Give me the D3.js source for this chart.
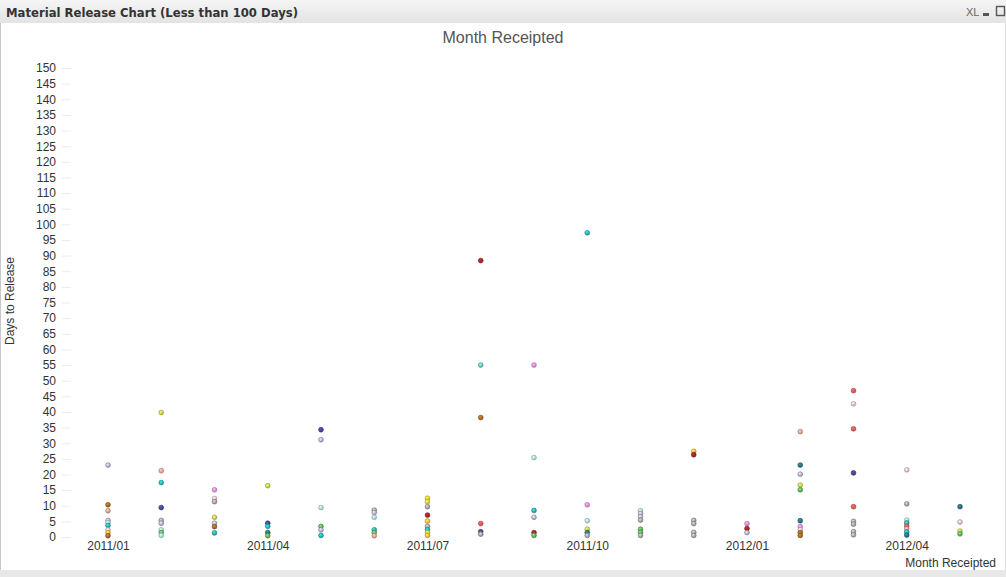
<!DOCTYPE html>
<html><head><meta charset="utf-8">
<script src="https://cdn.jsdelivr.net/npm/d3@7"></script>
<style>
html,body{margin:0;padding:0;background:#fff;}
svg{display:block;}
</style></head>
<body>
<svg id="c" width="1006" height="577"></svg>
<script>
// ---- data ----
const months = ["2011/01","2011/02","2011/03","2011/04","2011/05","2011/06","2011/07","2011/08","2011/09","2011/10","2011/11","2011/12","2012/01","2012/02","2012/03","2012/04","2012/05"];
const labelMonths = ["2011/01","2011/04","2011/07","2011/10","2012/01","2012/04"];
const yTicks = d3.range(0, 151, 5);
// days to release per month receipted
const days = [
  [23, 10.3, 8.4, 5.3, 4.6, 3.7, 2.3, 1.4, 0.4],
  [39.8, 21.2, 17.4, 9.4, 5.3, 4.4, 2.3, 1.4, 0.5],
  [15.1, 12.3, 11.3, 6.3, 4.4, 3.3, 1.3],
  [16.4, 4.4, 3.4, 1.4, 0.4],
  [34.3, 31.1, 9.4, 3.4, 2.3, 0.5],
  [8.6, 7.8, 6.3, 2.3, 1.4, 0.4],
  [12.4, 11.3, 9.7, 7.0, 5.1, 3.4, 2.3, 1.4, 0.5],
  [88.4, 55, 38.2, 4.3, 1.7, 0.9],
  [55, 25.4, 8.5, 6.3, 1.4, 0.5],
  [97.3, 10.3, 5.2, 2.5, 1.4, 0.5],
  [8.4, 7.5, 6.5, 5.4, 2.5, 1.5, 0.5],
  [27.4, 26.3, 5.3, 4.3, 1.5, 0.5],
  [4.3, 2.7, 1.4],
  [33.7, 23, 20.1, 16.6, 15.1, 5.2, 3.3, 2.3, 1.4, 0.5],
  [46.8, 42.6, 34.6, 20.5, 9.7, 5.0, 4.1, 1.7, 0.7],
  [21.5, 10.6, 5.4, 4.5, 3.5, 2.6, 1.6, 0.6],
  [9.7, 4.8, 1.9, 1.0]
];
// material (colour group) for each point
const material = [
  [2, 11, 4, 2, 9, 0, 12, 7, 11],
  [3, 4, 0, 1, 13, 2, 9, 10, 9],
  [8, 12, 13, 3, 2, 11, 0],
  [3, 1, 0, 14, 10],
  [1, 2, 9, 10, 2, 0],
  [13, 2, 9, 0, 10, 4],
  [15, 15, 13, 6, 7, 13, 0, 15, 7],
  [6, 16, 11, 5, 1, 13],
  [8, 9, 0, 2, 6, 10],
  [0, 8, 9, 3, 14, 13],
  [9, 2, 2, 13, 10, 10, 13],
  [7, 6, 13, 13, 13, 13],
  [8, 6, 2],
  [4, 14, 2, 3, 10, 14, 8, 12, 11, 11],
  [5, 12, 5, 1, 5, 13, 13, 13, 13],
  [12, 13, 9, 0, 5, 4, 0, 14],
  [14, 12, 3, 10]
];
const palette = ["#1e9a9a","#3a3a78","#9a98b8","#b4c040","#d58a7c","#cc4a4a","#8a1c1c","#e0a030","#cf78cf","#92cfc2","#4f9a4f","#8a5a1e","#d6a6bc","#8c8c8c","#22606e","#d6c030","#5cb0a0"];

// ---- drawing ----
const svg = d3.select("#c");
const W = 1006, H = 577;
const defs = svg.append("defs");
const hdr = defs.append("linearGradient").attr("id","hdr").attr("x1",0).attr("y1",0).attr("x2",0).attr("y2",1);
hdr.append("stop").attr("offset","0%").attr("stop-color","#f5f5f5");
hdr.append("stop").attr("offset","100%").attr("stop-color","#e3e3e3");
palette.forEach((c,i)=>{
  const g = defs.append("radialGradient").attr("id","g"+i).attr("cx","40%").attr("cy","35%").attr("r","65%");
  g.append("stop").attr("offset","0%").attr("stop-color", d3.color(c).brighter(1.3).formatHex());
  g.append("stop").attr("offset","100%").attr("stop-color", d3.color(c).darker(0.2).formatHex());
});

svg.append("rect").attr("x",0).attr("y",0).attr("width",W).attr("height",H).attr("fill","#fff");
// header bar
svg.append("rect").attr("x",0).attr("y",0).attr("width",W).attr("height",23).attr("fill","url(#hdr)");
svg.append("text").attr("x",6).attr("y",17).attr("font-family","DejaVu Sans").attr("font-size",12.5).attr("font-weight","bold")
  .attr("fill","#333").attr("textLength",292).attr("lengthAdjust","spacingAndGlyphs")
  .text("Material Release Chart (Less than 100 Days)");
svg.append("text").attr("x",966).attr("y",16).attr("font-family","Liberation Sans Narrow, Liberation Sans").attr("font-size",11).attr("fill","#666").text("XL");
svg.append("rect").attr("x",983).attr("y",13).attr("width",6).attr("height",3).attr("fill","#555");
svg.append("rect").attr("x",996.5).attr("y",6.5).attr("width",8).attr("height",9).attr("fill","none").attr("stroke","#555").attr("stroke-width",1.4);
// borders
svg.append("rect").attr("x",0).attr("y",570).attr("width",W).attr("height",7).attr("fill","#e8e8e8");
svg.append("line").attr("x1",0.5).attr("y1",23).attr("x2",0.5).attr("y2",570).attr("stroke","#c8c8c8");
svg.append("line").attr("x1",W-0.5).attr("y1",23).attr("x2",W-0.5).attr("y2",570).attr("stroke","#e0e0e0");

// chart title
svg.append("text").attr("x",503).attr("y",43).attr("text-anchor","middle").attr("font-family","Liberation Sans, Arial")
  .attr("font-size",16).attr("fill","#555").text("Month Receipted");

const x = d3.scalePoint().domain(months).range([108, 960]);
const y = d3.scaleLinear().domain([0,150]).range([537, 68]);

const ya = svg.append("g").attr("transform","translate(71,0)")
  .call(d3.axisLeft(y).tickValues(yTicks).tickSize(9).tickPadding(6).tickFormat(d3.format("d")));
ya.select(".domain").remove();
ya.selectAll(".tick line").attr("stroke","#ececec");
ya.selectAll(".tick text").attr("font-family","Liberation Sans, Arial").attr("font-size",12).attr("fill","#333");

const xa = svg.append("g").attr("transform","translate(0,537)")
  .call(d3.axisBottom(x).tickValues(labelMonths).tickSize(0).tickPadding(4));
xa.select(".domain").remove();
xa.selectAll(".tick text").attr("font-family","Liberation Sans, Arial").attr("font-size",12).attr("fill","#333");

svg.append("text").attr("transform","translate(14,301) rotate(-90)").attr("text-anchor","middle")
  .attr("font-family","Liberation Sans, Arial").attr("font-size",12).attr("fill","#333").text("Days to Release");
svg.append("text").attr("x",996).attr("y",567).attr("text-anchor","end")
  .attr("font-family","Liberation Sans, Arial").attr("font-size",12).attr("fill","#333").text("Month Receipted");

// points
const pts = [];
months.forEach((m,i)=>{ days[i].forEach((v,j)=>pts.push({m, v, c: material[i][j]})); });
svg.append("g").selectAll("circle").data(pts).join("circle")
  .attr("cx", d=>x(d.m)).attr("cy", d=>y(d.v)).attr("r", 2.4)
  .attr("fill", d=>"url(#g"+d.c+")")
  .attr("stroke", d=>d3.color(palette[d.c]).darker(0.6).formatHex()).attr("stroke-width",0.6);
</script>
</body></html>
